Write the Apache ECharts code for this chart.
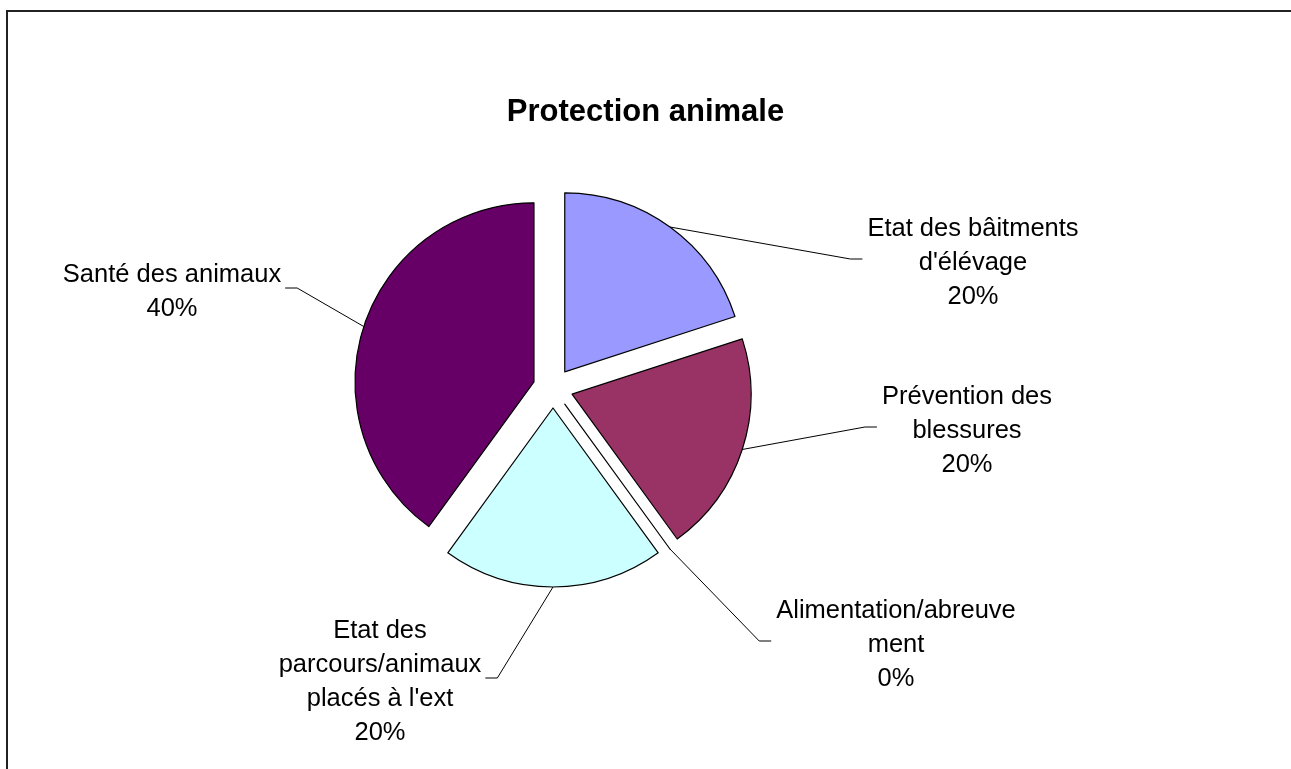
<!DOCTYPE html>
<html>
<head>
<meta charset="utf-8">
<script src="https://cdn.jsdelivr.net/npm/echarts@6/dist/echarts.min.js"></script>
<style>
html, body { margin: 0; padding: 0; background: #fff; overflow: hidden; }
#chart { width: 1291px; height: 769px; }
</style>
</head>
<body>
<div id="chart"></div>
<script>
// ---- data ----
const title = 'Protection animale';
const categories = [
  "Etat des bâitments\nd'élévage",
  "Prévention des\nblessures",
  "Alimentation/abreuve\nment",
  "Etat des\nparcours/animaux\nplacés à l'ext",
  "Santé des animaux"
];
const values = [20, 20, 0, 20, 40];
const colors = ['#9999FF', '#993366', '#FFFFCC', '#CCFFFF', '#660066'];

// ---- layout ----
const CX = 553, CY = 388, R = 179, OFF = 20;
const LABEL_POS = [[973, 263], [967, 431], [896, 645], [380, 682], [172, 292]];
const FONT = "'Liberation Sans', Arial, sans-serif";

const total = values.reduce((a, b) => a + b, 0);

const chart = echarts.init(document.getElementById('chart'), null, { renderer: 'canvas' });

function midAngle(i) {
  let before = 0;
  for (let k = 0; k < i; k++) before += values[k];
  return (before + values[i] / 2) / total * Math.PI * 2;
}

const option = {
  animation: false,
  backgroundColor: '#ffffff',
  title: {
    text: title,
    left: 'center',
    top: 92,
    textStyle: { fontFamily: FONT, fontSize: 31, fontWeight: 'bold', color: '#000' }
  },
  graphic: [{
    type: 'rect',
    silent: true,
    shape: { x: 7, y: 11, width: 1400, height: 900 },
    style: { fill: 'none', stroke: '#222', lineWidth: 2 }
  }],
  series: [{
    // exploded slices
    type: 'pie',
    center: [CX, CY],
    radius: [0, R],
    startAngle: 90,
    clockwise: true,
    selectedMode: 'multiple',
    selectedOffset: OFF,
    avoidLabelOverlap: false,
    emphasis: { disabled: true },
    select: { itemStyle: { borderColor: '#000', borderWidth: 1.2 } },
    itemStyle: { borderColor: '#000', borderWidth: 1.2 },
    label: { show: false },
    labelLine: { show: false },
    data: categories.map((c, i) => ({
      name: c,
      value: values[i],
      selected: true,
      itemStyle: { color: colors[i] }
    }))
  }, {
    // labels
    type: 'pie',
    silent: true,
    center: [CX, CY],
    radius: [0, R],
    startAngle: 90,
    clockwise: true,
    avoidLabelOverlap: false,
    emphasis: { disabled: true },
    itemStyle: { color: 'rgba(0,0,0,0)', borderWidth: 0 },
    label: {
      show: true,
      position: 'outside',
      fontFamily: FONT,
      fontSize: 25.5,
      lineHeight: 34,
      color: '#000',
      align: 'center',
      formatter: p => p.name + '\n' + Math.round(p.percent) + '%'
    },
    labelLine: { show: true, lineStyle: { color: '#000', width: 1 } },
    labelLayout: function (params) {
      const i = params.dataIndex;
      const lx = LABEL_POS[i][0], ly = LABEL_POS[i][1];
      const w = params.labelRect.width;
      const mid = midAngle(i);
      const ux = Math.sin(mid), uy = -Math.cos(mid);
      const sx = CX + (OFF + R) * ux, sy = CY + (OFF + R) * uy;
      const right = lx > CX;
      const ex = right ? lx - w / 2 - 5 : lx + w / 2 + 4;
      const mx = right ? ex - 12 : ex + 12;
      return {
        x: lx, y: ly, align: 'center', verticalAlign: 'middle',
        labelLinePoints: [[sx, sy], [mx, ly - 4], [ex, ly - 4]]
      };
    },
    data: categories.map((c, i) => ({ name: c, value: values[i] }))
  }]
};
chart.setOption(option);
</script>
</body>
</html>
